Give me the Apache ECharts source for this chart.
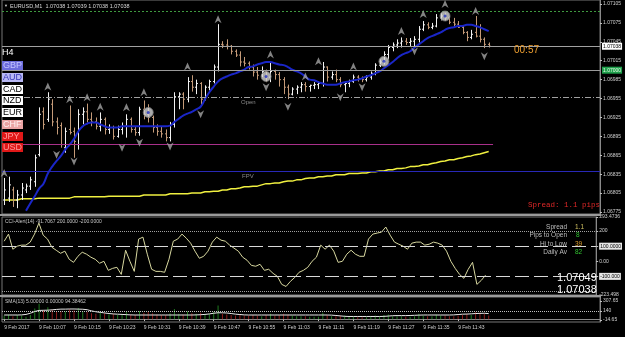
<!DOCTYPE html>
<html>
<head>
<meta charset="utf-8">
<script src="https://cdn.jsdelivr.net/npm/echarts@6/dist/echarts.min.js"></script>
<style>
html, body { margin: 0; padding: 0; background: #000; }
#chart { width: 625px; height: 337px; }
</style>
</head>
<body>
<div id="chart"></div>
<script>
// EURUSD M1 bars, each [open, close, low, high]
var bars = [
    [1.06794,1.06810,1.06786,1.06829],[1.06797,1.06818,1.06791,1.06831],[1.06810,1.06794,1.06783,1.06815],[1.06794,1.06802,1.06781,1.06810],
    [1.06802,1.06813,1.06794,1.06821],[1.06810,1.06816,1.06805,1.06820],[1.06816,1.06826,1.06810,1.06831],[1.06823,1.06861,1.06815,1.06866],
    [1.06866,1.06930,1.06863,1.06941],[1.06934,1.06914,1.06906,1.06941],[1.06922,1.06954,1.06918,1.06965],[1.06946,1.06918,1.06911,1.06954],
    [1.06918,1.06909,1.06898,1.06925],[1.06912,1.06882,1.06877,1.06917],[1.06877,1.06903,1.06869,1.06909],[1.06906,1.06901,1.06898,1.06944],
    [1.06903,1.06887,1.06861,1.06909],[1.06882,1.06930,1.06874,1.06938],[1.06930,1.06934,1.06914,1.06941],[1.06934,1.06922,1.06917,1.06947],
    [1.06922,1.06918,1.06911,1.06933],[1.06918,1.06911,1.06906,1.06925],[1.06911,1.06922,1.06903,1.06933],[1.06922,1.06906,1.06898,1.06925],
    [1.06906,1.06909,1.06899,1.06914],[1.06909,1.06895,1.06890,1.06912],[1.06895,1.06906,1.06893,1.06912],[1.06906,1.06911,1.06898,1.06917],
    [1.06911,1.06922,1.06893,1.06930],[1.06922,1.06906,1.06901,1.06925],[1.06906,1.06901,1.06896,1.06911],[1.06901,1.06938,1.06896,1.06942],
    [1.06938,1.06930,1.06922,1.06952],[1.06930,1.06925,1.06917,1.06946],[1.06925,1.06909,1.06901,1.06928],[1.06909,1.06903,1.06896,1.06914],
    [1.06903,1.06899,1.06893,1.06911],[1.06899,1.06893,1.06887,1.06906],[1.06893,1.06914,1.06887,1.06918],[1.06914,1.06958,1.06909,1.06965],
    [1.06958,1.06962,1.06938,1.06965],[1.06962,1.06954,1.06938,1.06965],[1.06954,1.06982,1.06949,1.06989],[1.06982,1.06973,1.06966,1.06992],
    [1.06973,1.06979,1.06962,1.06985],[1.06979,1.06954,1.06944,1.06981],[1.06954,1.06973,1.06952,1.06976],[1.06973,1.06982,1.06968,1.06985],
    [1.06982,1.07005,1.06979,1.07009],[1.07005,1.07041,1.06998,1.07073],[1.07041,1.07040,1.07035,1.07046],[1.07040,1.07038,1.07033,1.07049],
    [1.07038,1.07030,1.07025,1.07040],[1.07030,1.07024,1.07021,1.07033],[1.07024,1.07013,1.07006,1.07030],[1.07013,1.07011,1.07006,1.07021],
    [1.07011,1.07005,1.07001,1.07014],[1.07005,1.06997,1.06990,1.07009],[1.06997,1.06992,1.06985,1.07005],[1.06992,1.06998,1.06989,1.07006],
    [1.06998,1.06989,1.06981,1.07001],[1.06989,1.06998,1.06981,1.07013],[1.06998,1.06993,1.06985,1.07001],[1.06993,1.06985,1.06974,1.06997],
    [1.06985,1.06973,1.06962,1.06989],[1.06973,1.06962,1.06954,1.06977],[1.06962,1.06970,1.06960,1.06973],[1.06970,1.06973,1.06962,1.06976],
    [1.06973,1.06977,1.06965,1.06981],[1.06977,1.06974,1.06966,1.06981],[1.06974,1.06976,1.06966,1.06977],[1.06976,1.06977,1.06970,1.06981],
    [1.06977,1.06979,1.06970,1.06982],[1.06979,1.07005,1.06974,1.07013],[1.07005,1.06989,1.06982,1.07006],[1.06989,1.06993,1.06985,1.06998],
    [1.06993,1.06985,1.06981,1.07001],[1.06985,1.06977,1.06973,1.06989],[1.06977,1.06979,1.06965,1.06982],[1.06979,1.06982,1.06973,1.06985],
    [1.06982,1.06989,1.06980,1.06993],[1.06989,1.06987,1.06982,1.06992],[1.06987,1.06985,1.06981,1.06990],[1.06985,1.06989,1.06982,1.06992],
    [1.06989,1.06995,1.06985,1.06998],[1.06995,1.07008,1.06992,1.07011],[1.07008,1.07013,1.07005,1.07017],[1.07013,1.07025,1.07009,1.07030],
    [1.07025,1.07036,1.07017,1.07040],[1.07036,1.07040,1.07030,1.07044],[1.07040,1.07043,1.07035,1.07049],[1.07043,1.07046,1.07036,1.07052],
    [1.07046,1.07044,1.07040,1.07051],[1.07044,1.07046,1.07038,1.07051],[1.07046,1.07049,1.07038,1.07054],[1.07049,1.07065,1.07044,1.07070],
    [1.07065,1.07072,1.07062,1.07078],[1.07072,1.07068,1.07065,1.07076],[1.07068,1.07070,1.07065,1.07075],[1.07070,1.07083,1.07068,1.07089],
    [1.07083,1.07086,1.07079,1.07091],[1.07086,1.07083,1.07078,1.07091],[1.07083,1.07076,1.07073,1.07086],[1.07076,1.07073,1.07070,1.07083],
    [1.07073,1.07068,1.07067,1.07078],[1.07068,1.07060,1.07057,1.07070],[1.07060,1.07052,1.07046,1.07062],[1.07052,1.07057,1.07049,1.07064],
    [1.07060,1.07054,1.07052,1.07086],[1.07054,1.07049,1.07044,1.07073],[1.07049,1.07041,1.07035,1.07052],[1.07041,1.07038,1.07036,1.07044]
];

// blue moving average
var maBlue = [
    null,null,null,null,null,1.06777,1.06789,1.06800,1.06812,1.06820,
    1.06836,1.06847,1.06856,1.06864,1.06874,1.06882,1.06891,1.06903,1.06911,1.06915,
    1.06917,1.06917,1.06914,1.06911,1.06909,1.06909,1.06909,1.06911,1.06911,1.06911,
    1.06911,1.06911,1.06911,1.06911,1.06911,1.06911,1.06911,1.06911,1.06912,1.06918,
    1.06923,1.06928,1.06931,1.06934,1.06938,1.06942,1.06954,1.06965,1.06974,1.06982,
    1.06987,1.06990,1.06993,1.06995,1.06998,1.07001,1.07005,1.07006,1.07009,1.07011,
    1.07013,1.07013,1.07011,1.07009,1.07008,1.07005,1.07001,1.06998,1.06995,1.06990,
    1.06985,1.06984,1.06981,1.06979,1.06977,1.06977,1.06977,1.06979,1.06981,1.06982,
    1.06984,1.06985,1.06987,1.06990,1.06992,1.06995,1.06998,1.07003,1.07008,1.07013,
    1.07019,1.07024,1.07027,1.07030,1.07036,1.07041,1.07046,1.07051,1.07054,1.07057,
    1.07060,1.07064,1.07067,1.07068,1.07070,1.07070,1.07072,1.07072,1.07070,1.07068,
    1.07065,1.07062
];

// yellow slow average
var maYellow = [
    1.06794,1.06794,1.06794,1.06794,1.06796,1.06796,1.06796,1.06796,1.06797,1.06797,
    1.06797,1.06797,1.06797,1.06797,1.06797,1.06797,1.06799,1.06799,1.06799,1.06799,
    1.06799,1.06799,1.06799,1.06799,1.06800,1.06800,1.06800,1.06800,1.06800,1.06800,
    1.06800,1.06800,1.06802,1.06802,1.06802,1.06802,1.06802,1.06802,1.06804,1.06804,
    1.06804,1.06804,1.06804,1.06805,1.06805,1.06805,1.06807,1.06807,1.06808,1.06808,
    1.06810,1.06810,1.06812,1.06812,1.06813,1.06815,1.06815,1.06816,1.06816,1.06818,
    1.06820,1.06820,1.06821,1.06821,1.06823,1.06824,1.06824,1.06826,1.06826,1.06828,
    1.06829,1.06829,1.06831,1.06831,1.06832,1.06832,1.06834,1.06834,1.06834,1.06836,
    1.06836,1.06836,1.06837,1.06837,1.06839,1.06839,1.06840,1.06840,1.06842,1.06842,
    1.06844,1.06844,1.06845,1.06847,1.06847,1.06848,1.06850,1.06850,1.06852,1.06853,
    1.06855,1.06856,1.06858,1.06858,1.06860,1.06861,1.06863,1.06864,1.06866,1.06867,
    1.06869,1.06871
];

var cci = [
    133,180,80,100,107,107,127,180,253,173,147,93,73,53,67,13,-7,33,60,47,
    27,13,-13,0,-60,-47,-40,-87,73,0,-67,147,160,47,-53,-67,-67,-73,13,133,
    147,180,153,120,67,20,33,67,127,160,140,133,107,87,67,27,7,-27,-33,-20,
    -60,-53,-80,-100,-153,-167,-133,-107,-73,-60,-40,0,27,107,80,107,67,-7,0,47,
    73,47,33,33,147,180,187,193,227,173,127,113,100,80,120,127,127,107,113,127,
    120,107,67,0,-47,-87,-113,-53,-7,-153,-127,-92
];

var volume = [
    60,80,50,70,60,40,70,180,260,150,
    200,160,120,140,130,170,150,190,140,120,
    100,90,110,100,80,90,70,80,120,80,
    70,140,110,120,100,80,70,70,100,170,
    90,80,130,100,90,110,80,90,120,230,
    90,80,70,60,80,60,60,70,60,50,
    70,90,60,70,90,80,60,50,50,50,
    40,40,40,110,70,50,50,60,60,40,
    40,30,30,30,50,60,50,70,80,50,
    50,50,40,40,50,90,60,50,50,80,
    60,60,50,50,60,70,90,70,120,110,
    90,60
];

var volSma = [
    70,70,70,70,72,80,100,130,148,150,
    152,158,165,170,170,172,172,170,168,160,
    140,125,115,105,95,88,84,80,76,72,
    70,70,70,70,70,70,70,70,70,70,
    70,70,70,70,72,75,80,88,100,108,
    108,104,95,85,78,72,70,70,70,70,
    70,70,70,70,70,70,70,70,70,70,
    70,70,70,70,70,68,62,55,48,45,
    45,45,45,45,45,45,45,47,52,58,
    60,60,60,62,65,68,70,70,70,70,
    70,70,70,72,78,84,86,90,95,98,
    100,94
];

var arrowsUp = [[0,1.06837],[10,1.06974],[15,1.06954],[19,1.06957],[22,1.06942],[28,1.06941],[32,1.06965],
    [42,1.07006],[49,1.07081],[61,1.07025],[69,1.06990],[72,1.07014],[80,1.07006],[91,1.07062],[96,1.07089],
    [101,1.07105],[108,1.07094]];
var arrowsDown = [[12,1.06866],[16,1.06855],[27,1.06877],[31,1.06885],[38,1.06879],[45,1.06930],[60,1.06973],
    [65,1.06942],[77,1.06957],[82,1.06973],[94,1.07030],[110,1.07022]];
var circles = [[33,1.06933],[60,1.06990],[87,1.07014],[101,1.07086]];

var timeLabels = ['9 Feb 2017','9 Feb 10:07','9 Feb 10:15','9 Feb 10:23','9 Feb 10:31','9 Feb 10:39','9 Feb 10:47',
    '9 Feb 10:55','9 Feb 11:03','9 Feb 11:11','9 Feb 11:19','9 Feb 11:27','9 Feb 11:35','9 Feb 11:43'];
var priceTicks = [1.06775,1.06805,1.06835,1.06865,1.06895,1.06925,1.06955,1.06985,1.07015,1.07045,1.07075,1.07105];
var cciTicks = [-223.498,-100,0,100,200,293.4736];
var smaTicks = [-14.65,140,307.65];

var bidPrice = 1.07038;
var roundLevel = 1.07000;
var openLevel = 1.06957;
var topLevel = 1.07094;
var pinkLevel = 1.06882;
var fpvLevel = 1.06840;

var slots = 137;
var cats = [];
for (var i = 0; i < slots; i++) cats.push(String(i));

var font = 'Liberation Sans';
var axisGray = '#8a8a8a';

function renderBar(params, api) {
    var i = api.value(0);
    var o = api.coord([i, api.value(1)]);
    var c = api.coord([i, api.value(2)]);
    var l = api.coord([i, api.value(3)]);
    var h = api.coord([i, api.value(4)]);
    var x = Math.round(o[0]) + 0.5;
    var col = api.value(2) >= api.value(1) ? '#f2f2f2' : '#c49a78';
    var st = {stroke: col, lineWidth: 1};
    return {
        type: 'group',
        children: [
            {type: 'line', shape: {x1: x, y1: h[1], x2: x, y2: l[1]}, style: st},
            {type: 'line', shape: {x1: x - 1.5, y1: o[1], x2: x, y2: o[1]}, style: st},
            {type: 'line', shape: {x1: x, y1: c[1], x2: x + 1.5, y2: c[1]}, style: st}
        ]
    };
}

function hLine(v, color, type, width) {
    return {yAxis: v, lineStyle: {color: color, type: type, width: width || 1}, label: {show: false}};
}

function txt(x, y, s, fill, f, align) {
    return {type: 'text', x: x, y: y, z: 100, silent: true,
        style: {text: s, fill: fill, font: f, align: align || 'left', verticalAlign: 'middle'}};
}

function box(y, label, bg, fg) {
    return [
        {type: 'rect', z: 100, silent: true, shape: {x: 2, y: y, width: 21, height: 9}, style: {fill: bg}},
        txt(3, y + 4.8, label, fg, '9px ' + font)
    ];
}

var arrowPath = 'path://M5,0 L10,10 L5,7 L0,10 Z';

var graphics = [
    txt(4, 6, '\u25BC', '#cfcfcf', '4px ' + font),
    txt(10, 6, 'EURUSD,M1  1.07038 1.07039 1.07038 1.07038', '#d8d8d8', '5.5px ' + font),
    txt(2, 53, 'H4', '#ffffff', '9px ' + font),
    txt(514, 50, '00:57', '#f0a030', '10px ' + font),
    txt(528, 205, 'Spread: 1.1 pips', '#e02828', '7.5px Liberation Mono'),
    txt(241, 102, 'Open', '#8a8a8a', '6px ' + font),
    txt(242, 176, 'FPV', '#8a8a8a', '6px ' + font),
    txt(5, 222, 'CCI-Alert(14) -91.7067 200.0000 -200.0000', '#c8c8c8', '5px ' + font),
    txt(567, 227, 'Spread', '#bdbdbd', '6.5px ' + font, 'right'),
    txt(567, 235, 'Pips to Open', '#bdbdbd', '6.5px ' + font, 'right'),
    txt(567, 244, 'Hi to Low', '#bdbdbd', '6.5px ' + font, 'right'),
    txt(567, 252, 'Daily Av', '#bdbdbd', '6.5px ' + font, 'right'),
    txt(575, 227, '1.1', '#d0c060', '6.5px ' + font),
    txt(576, 235, '8', '#30c030', '6.5px ' + font),
    txt(575, 244, '39', '#e0a030', '6.5px ' + font),
    txt(575, 252, '82', '#30c030', '6.5px ' + font),
    txt(557, 278, '1.07049', '#ffffff', '11px ' + font),
    txt(557, 290, '1.07038', '#ffffff', '11px ' + font),
    txt(5, 302, 'SMA(13) 5.00000 0.00000 94.38462', '#c8c8c8', '5px ' + font),
    {type: 'rect', z: 90, silent: true, shape: {x: 0, y: 214, width: 601, height: 2}, style: {fill: '#9a9a9a'}},
    {type: 'rect', z: 90, silent: true, shape: {x: 0, y: 295, width: 601, height: 2}, style: {fill: '#9a9a9a'}}
];
graphics = graphics
    .concat(box(61, 'GBP', '#6c6cdc', '#c4c4ff'))
    .concat(box(73, 'AUD', '#b8b8f4', '#3838b8'))
    .concat(box(85, 'CAD', '#ffffff', '#000000'))
    .concat(box(96, 'NZD', '#ffffff', '#000000'))
    .concat(box(108, 'EUR', '#ffffff', '#000000'))
    .concat(box(120, 'CHF', '#eaa4a4', '#fff0f0'))
    .concat(box(132, 'JPY', '#e01818', '#ff9a9a'))
    .concat(box(143, 'USD', '#e01818', '#ff9a9a'));

function xAxisFor(idx, showLabels) {
    return {
        type: 'category', gridIndex: idx, data: cats, boundaryGap: true,
        axisLine: {show: showLabels, lineStyle: {color: axisGray}},
        axisTick: {
            show: showLabels, alignWithLabel: true, length: 2, lineStyle: {color: '#c0c0c0'},
            interval: function(n) { return n % 8 === 0 && n / 8 < timeLabels.length; }
        },
        axisLabel: {
            show: showLabels, color: '#d0d0d0', fontSize: 5, fontFamily: font, align: 'left', margin: 3,
            interval: function(n) { return n % 8 === 0 && n / 8 < timeLabels.length; },
            formatter: function(v, n) { return timeLabels[n / 8] || ''; }
        },
        splitLine: {show: false}
    };
}

var option = {
    backgroundColor: '#000',
    animation: false,
    graphic: graphics,
    grid: [
        {left: 2, top: 0, width: 598, height: 214, show: true, borderColor: '#777', borderWidth: 1},
        {left: 2, top: 217, width: 598, height: 78, show: true, borderColor: '#777', borderWidth: 1},
        {left: 2, top: 297, width: 598, height: 25, show: true, borderColor: '#777', borderWidth: 1}
    ],
    xAxis: [xAxisFor(0, false), xAxisFor(1, false), xAxisFor(2, true)],
    yAxis: [
        {
            type: 'value', gridIndex: 0, position: 'right', min: 1.0677181, max: 1.0711138, scale: true,
            axisLine: {show: true, lineStyle: {color: axisGray}},
            axisTick: {show: true, length: 2, customValues: priceTicks, lineStyle: {color: '#c0c0c0'}},
            axisLabel: {color: '#d0d0d0', fontSize: 5, fontFamily: font, margin: 3, customValues: priceTicks,
                formatter: function(v) { return v.toFixed(5); }},
            splitLine: {show: false}
        },
        {
            type: 'value', gridIndex: 1, position: 'right', min: -223.498, max: 293.4736,
            axisLine: {show: true, lineStyle: {color: axisGray}},
            axisTick: {show: true, length: 2, customValues: cciTicks, lineStyle: {color: '#c0c0c0'}},
            axisLabel: {
                color: '#d0d0d0', fontSize: 5, fontFamily: font, margin: 3, customValues: cciTicks,
                formatter: function(v) {
                    if (v === 100) return '{b|100.0000}';
                    if (v === -100) return '{b|-100.000}';
                    if (v === 0) return '0.00';
                    if (v === 200) return '200';
                    return String(v);
                },
                rich: {b: {backgroundColor: '#e8e8e8', color: '#000', fontSize: 5, fontFamily: font, padding: [1, 1]}}
            },
            splitLine: {show: false}
        },
        {
            type: 'value', gridIndex: 2, position: 'right', min: -48.6, max: 375.6,
            axisLine: {show: true, lineStyle: {color: axisGray}},
            axisTick: {show: true, length: 2, customValues: smaTicks, lineStyle: {color: '#c0c0c0'}},
            axisLabel: {color: '#d0d0d0', fontSize: 5, fontFamily: font, margin: 3, customValues: smaTicks,
                formatter: function(v) { return v === 140 ? '140' : v.toFixed(2); }},
            splitLine: {show: false}
        }
    ],
    series: [
        {
            type: 'line', xAxisIndex: 0, yAxisIndex: 0, data: maYellow, symbol: 'none',
            lineStyle: {color: '#f0f040', width: 1.5}, z: 2,
            markLine: {
                silent: true, symbol: 'none', precision: 6,
                lineStyle: {type: 'solid'},
                data: [
                    hLine(topLevel, '#3f9a3f', [2, 2]),
                    hLine(openLevel, '#a0a0a0', [6, 2, 1, 2]),
                    hLine(fpvLevel, '#2828b8', 'solid'),
                    [{coord: [0, pinkLevel], lineStyle: {color: '#a8308a', width: 1, type: 'solid'}, label: {show: false}},
                     {coord: [112, pinkLevel]}],
                    {yAxis: roundLevel, lineStyle: {color: '#9a9a9a', type: 'solid', width: 1},
                     label: {show: true, position: 'end', distance: 2, formatter: '1.07000', fontSize: 5,
                        fontFamily: font, color: '#e8ffe8', backgroundColor: '#1fa04c', padding: [1, 1]}},
                    {yAxis: bidPrice, lineStyle: {color: '#a0a0a0', type: 'solid', width: 1},
                     label: {show: true, position: 'end', distance: 2, formatter: '1.07038', fontSize: 5,
                        fontFamily: font, color: '#000', backgroundColor: '#ffffff', padding: [1, 1]}}
                ]
            }
        },
        {
            type: 'custom', xAxisIndex: 0, yAxisIndex: 0, renderItem: renderBar, z: 3,
            encode: {x: 0, y: [1, 2, 3, 4]},
            data: bars.map(function(b, i) { return [i].concat(b); })
        },
        {
            type: 'line', xAxisIndex: 0, yAxisIndex: 0, data: maBlue, symbol: 'none', smooth: true,
            lineStyle: {color: '#1a26c8', width: 2}, z: 4
        },
        {
            type: 'scatter', xAxisIndex: 0, yAxisIndex: 0, data: arrowsUp, symbol: arrowPath,
            symbolSize: [7, 8], itemStyle: {color: '#a4a4a4'}, z: 5
        },
        {
            type: 'scatter', xAxisIndex: 0, yAxisIndex: 0, data: arrowsDown, symbol: arrowPath,
            symbolRotate: 180, symbolSize: [7, 8], itemStyle: {color: '#a4a4a4'}, z: 5
        },
        {
            type: 'scatter', xAxisIndex: 0, yAxisIndex: 0, data: circles, symbol: 'circle', symbolSize: 10,
            itemStyle: {color: '#d4d4d4', borderColor: '#7a7a7a', borderWidth: 1}, z: 6
        },
        {
            type: 'scatter', xAxisIndex: 0, yAxisIndex: 0, data: circles, symbol: 'circle', symbolSize: 3,
            itemStyle: {color: '#2030c0'}, z: 7
        },
        {
            type: 'line', xAxisIndex: 1, yAxisIndex: 1, data: cci, symbol: 'none',
            lineStyle: {color: '#d8d8a0', width: 1},
            markLine: {
                silent: true, symbol: 'none', label: {show: false}, precision: 4,
                data: [
                    hLine(200, '#a0a0a0', 'dotted'),
                    hLine(-200, '#a0a0a0', 'dotted'),
                    hLine(100, '#d8d8d8', [14, 5]),
                    hLine(-100, '#d8d8d8', [14, 5])
                ]
            }
        },
        {
            type: 'bar', xAxisIndex: 2, yAxisIndex: 2, barWidth: 1,
            data: volume.map(function(v, i) {
                var up = bars[i] && bars[i][1] >= bars[i][0];
                return {value: v, itemStyle: {color: up ? '#1f7a1f' : '#8b1a1a'}};
            })
        },
        {
            type: 'line', xAxisIndex: 2, yAxisIndex: 2, data: volSma, symbol: 'none',
            lineStyle: {color: '#e8e8e8', width: 1},
            markLine: {
                silent: true, symbol: 'none', label: {show: false},
                data: [hLine(140, '#c0c0c0', 'dotted')]
            }
        }
    ]
};

var chart = echarts.init(document.getElementById('chart'));
chart.setOption(option);
</script>
</body>
</html>
